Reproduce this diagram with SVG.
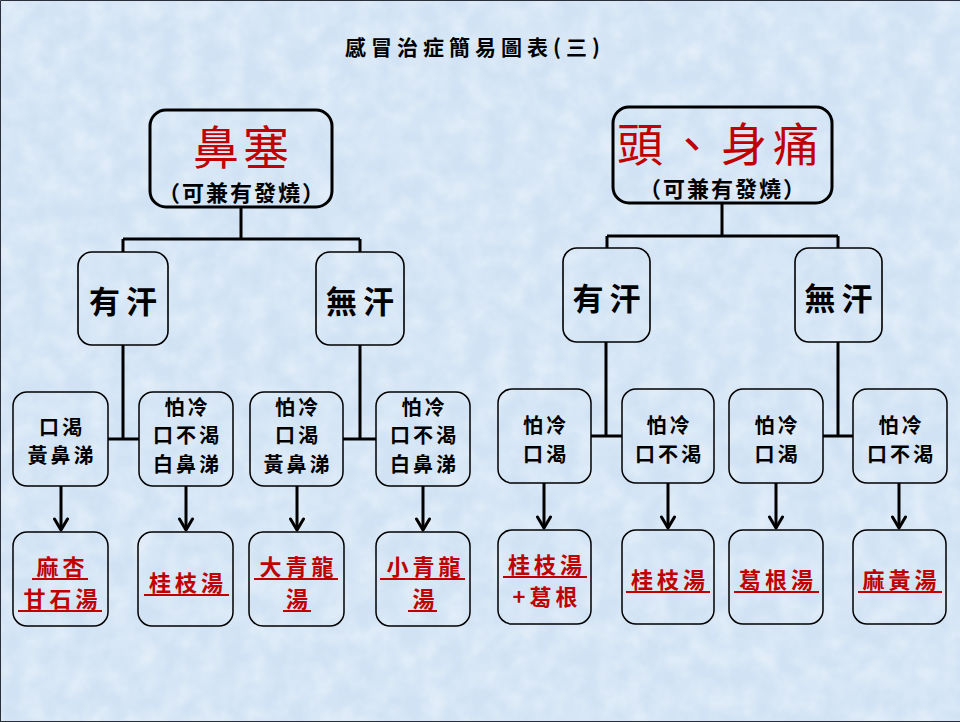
<svg xmlns="http://www.w3.org/2000/svg" width="960" height="722" viewBox="0 0 960 722">
<defs>
<style>
text{font-family:"Noto Sans CJK TC","Noto Sans CJK SC",sans-serif;text-anchor:middle;}
.t{font-size:21px;font-weight:700;fill:#000;letter-spacing:5px;}
.big{font-size:46px;font-weight:400;fill:#c00000;letter-spacing:4px;}
.sub{font-size:22px;font-weight:700;fill:#000;letter-spacing:2px;}
.mid{font-size:31px;font-weight:700;fill:#000;letter-spacing:6px;}
.sym{font-size:20px;font-weight:700;fill:#000;letter-spacing:3px;}
.rem{font-size:22px;font-weight:700;fill:#c00000;letter-spacing:4px;}
.ul{stroke:#c00000;stroke-width:2;}
.top{fill:none;stroke:#000;stroke-width:3;}
.box2{fill:none;stroke:#000;stroke-width:1.6;}
.box{fill:none;stroke:#000;stroke-width:1.5;}
.c{fill:none;stroke:#000;stroke-width:3;}
</style>
<marker id="arr" markerUnits="userSpaceOnUse" markerWidth="16" markerHeight="16" viewBox="0 0 16 16" refX="13" refY="8" orient="auto">
<path d="M2,1.5 L13,8 L2,14.5" fill="none" stroke="#000" stroke-width="3" stroke-linejoin="round" stroke-linecap="round"/>
</marker>
<filter id="tex" x="0" y="0" width="100%" height="100%">
<feTurbulence type="fractalNoise" baseFrequency="0.045" numOctaves="3" seed="4"/>
<feColorMatrix type="matrix" values="0 0 0 0 1  0 0 0 0 1  0 0 0 0 1  0 0 0 -1.6 1.15"/>
</filter>
</defs>
<rect width="960" height="722" fill="#d0e2f4"/>
<rect width="960" height="722" filter="url(#tex)" opacity="0.4"/>
<path d="M0.5,722 V0.5 H960 M0,721.5 H960" fill="none" stroke="#2a2f3a" stroke-width="1"/>

<text class="t" x="475" y="55">感冒治症簡易圖表(三)</text>

<g id="connectors">
<path class="c" d="M241,207 V239 M123,239 H360 M123,239 V252 M360,239 V252"/>
<path class="c" d="M123,345 V439 M108,439 H139 M360,345 V439 M343,439 H376"/>
<path class="c" d="M722,203 V236 M607,236 H838 M607,236 V248 M838,236 V248"/>
<path class="c" d="M606,342 V436 M591,436 H622 M838,342 V436 M823,436 H853"/>
<path class="c" marker-end="url(#arr)" d="M61,486 V530"/>
<path class="c" marker-end="url(#arr)" d="M186,486 V530"/>
<path class="c" marker-end="url(#arr)" d="M297,486 V530"/>
<path class="c" marker-end="url(#arr)" d="M423,486 V530"/>
<path class="c" marker-end="url(#arr)" d="M544,483 V528"/>
<path class="c" marker-end="url(#arr)" d="M668,483 V528"/>
<path class="c" marker-end="url(#arr)" d="M776,483 V528"/>
<path class="c" marker-end="url(#arr)" d="M899,483 V528"/>
</g>

<g id="n-bise">
<rect class="top" x="150" y="110" width="182" height="97" rx="16"/>
<text class="big" x="243" y="164">鼻塞</text>
<text class="sub" x="242" y="201">（可兼有發燒）</text>
</g>
<g id="n-toutong">
<rect class="top" x="613" y="107" width="219" height="96" rx="16"/>
<text class="big" x="721" y="161" style="letter-spacing:6px">頭、身痛</text>
<text class="sub" x="723" y="197">（可兼有發燒）</text>
</g>

<g id="n-l-youhan"><rect class="box2" x="78" y="252" width="90" height="93" rx="14"/><text class="mid" x="126" y="313">有汗</text></g>
<g id="n-l-wuhan"><rect class="box2" x="316" y="252" width="88" height="93" rx="14"/><text class="mid" x="363" y="313">無汗</text></g>
<g id="n-r-youhan"><rect class="box2" x="563" y="248" width="87" height="94" rx="14"/><text class="mid" x="609.5" y="310">有汗</text></g>
<g id="n-r-wuhan"><rect class="box2" x="795" y="248" width="87" height="94" rx="14"/><text class="mid" x="841.5" y="310">無汗</text></g>

<g id="s1"><rect class="box" x="13" y="392" width="95" height="94" rx="14"/><text class="sym" x="62" y="435">口渴</text><text class="sym" x="62" y="463">黃鼻涕</text></g>
<g id="s2"><rect class="box" x="139" y="392" width="94" height="94" rx="14"/><text class="sym" x="187.5" y="415">怕冷</text><text class="sym" x="187.5" y="443">口不渴</text><text class="sym" x="187.5" y="472">白鼻涕</text></g>
<g id="s3"><rect class="box" x="250" y="392" width="93" height="94" rx="14"/><text class="sym" x="298" y="415">怕冷</text><text class="sym" x="298" y="443">口渴</text><text class="sym" x="298" y="472">黃鼻涕</text></g>
<g id="s4"><rect class="box" x="376" y="392" width="94" height="94" rx="14"/><text class="sym" x="424.5" y="415">怕冷</text><text class="sym" x="424.5" y="443">口不渴</text><text class="sym" x="424.5" y="472">白鼻涕</text></g>

<g id="s5"><rect class="box" x="498" y="389" width="93" height="94" rx="14"/><text class="sym" x="546" y="433">怕冷</text><text class="sym" x="546" y="462">口渴</text></g>
<g id="s6"><rect class="box" x="622" y="389" width="92" height="94" rx="14"/><text class="sym" x="669.5" y="433">怕冷</text><text class="sym" x="669.5" y="462">口不渴</text></g>
<g id="s7"><rect class="box" x="729" y="389" width="94" height="94" rx="14"/><text class="sym" x="777.5" y="433">怕冷</text><text class="sym" x="777.5" y="462">口渴</text></g>
<g id="s8"><rect class="box" x="853" y="389" width="94" height="94" rx="14"/><text class="sym" x="901.5" y="433">怕冷</text><text class="sym" x="901.5" y="462">口不渴</text></g>

<g id="r1"><rect class="box" x="13" y="532" width="95" height="94" rx="14"/>
<text class="rem" x="62.5" y="575">麻杏</text><line class="ul" x1="32" y1="579" x2="88" y2="579"/>
<text class="rem" x="62.5" y="607">甘石湯</text><line class="ul" x1="18" y1="611" x2="102" y2="611"/></g>
<g id="r2"><rect class="box" x="138" y="532" width="95" height="94" rx="14"/>
<text class="rem" x="188" y="591">桂枝湯</text><line class="ul" x1="144" y1="595" x2="229" y2="595"/></g>
<g id="r3"><rect class="box" x="249" y="532" width="95" height="94" rx="14"/>
<text class="rem" x="298.5" y="575">大青龍</text><line class="ul" x1="254" y1="579" x2="338" y2="579"/>
<text class="rem" x="299" y="607">湯</text><line class="ul" x1="283" y1="611" x2="311" y2="611"/></g>
<g id="r4"><rect class="box" x="376" y="532" width="94" height="94" rx="14"/>
<text class="rem" x="425.5" y="575">小青龍</text><line class="ul" x1="380" y1="579" x2="465" y2="579"/>
<text class="rem" x="425.5" y="607">湯</text><line class="ul" x1="408" y1="611" x2="437" y2="611"/></g>

<g id="r5"><rect class="box" x="498" y="530" width="93" height="94" rx="14"/>
<text class="rem" x="547" y="573">桂枝湯</text><line class="ul" x1="503" y1="577" x2="587" y2="577"/>
<text class="rem" x="547" y="605">+葛根</text></g>
<g id="r6"><rect class="box" x="622" y="530" width="92" height="94" rx="14"/>
<text class="rem" x="670" y="588">桂枝湯</text><line class="ul" x1="626" y1="592" x2="710" y2="592"/></g>
<g id="r7"><rect class="box" x="729" y="530" width="94" height="94" rx="14"/>
<text class="rem" x="778" y="588">葛根湯</text><line class="ul" x1="734" y1="592" x2="819" y2="592"/></g>
<g id="r8"><rect class="box" x="853" y="530" width="93" height="94" rx="14"/>
<text class="rem" x="901.5" y="588">麻黃湯</text><line class="ul" x1="858" y1="592" x2="942" y2="592"/></g>
</svg>
